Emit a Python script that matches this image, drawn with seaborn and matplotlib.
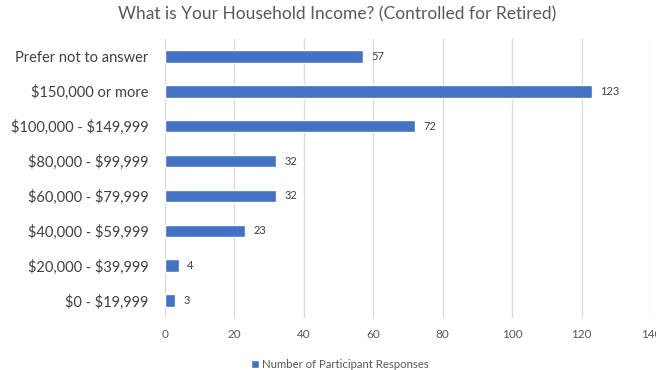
import matplotlib
matplotlib.use("Agg")
import matplotlib.pyplot as plt
import seaborn as sns
import pandas as pd

categories = [
    "Prefer not to answer",
    "$150,000 or more",
    "$100,000 - $149,999",
    "$80,000 - $99,999",
    "$60,000 - $79,999",
    "$40,000 - $59,999",
    "$20,000 - $39,999",
    "$0 - $19,999",
]
responses = [57, 123, 72, 32, 32, 23, 4, 3]
x_ticks = [0, 20, 40, 60, 80, 100, 120, 140]
series_name = "Number of Participant Responses"
title = "What is Your Household Income? (Controlled for Retired)"

df = pd.DataFrame({"Income": categories, "Responses": responses})

sns.set_theme(style="white")
plt.rcParams["font.family"] = ["Lato", "DejaVu Sans"]
plt.rcParams["text.parse_math"] = False

bar_color = "#4472C4"
text_gray = "#595959"

fig = plt.figure(figsize=(6.56, 3.70), dpi=100)
ax = fig.add_axes([0.2515, 0.1405, 0.7409, 0.7541])

sns.barplot(data=df, y="Income", x="Responses", order=categories,
            color=bar_color, width=0.36, saturation=1, ax=ax,
            label=series_name)

ax.set_xlim(0, 140)
ax.set_ylim(7.5, -0.5)
ax.set_xticks(x_ticks)
ax.set_xticklabels([str(t) for t in x_ticks])
ax.grid(axis="x", color="#D9D9D9", linewidth=0.9)
ax.grid(axis="y", visible=False)
ax.set_axisbelow(True)
for s in ax.spines.values():
    s.set_visible(False)
ax.set_xlabel("")
ax.set_ylabel("")
ax.tick_params(axis="x", length=0, labelsize=8.5, labelcolor=text_gray, pad=8)
ax.tick_params(axis="y", length=0, labelsize=10.5, labelcolor="#404040", pad=12)

for container in ax.containers:
    ax.bar_label(container, labels=[str(v) for v in responses],
                 padding=6, fontsize=8, color="#404040")

fig.text(0.514, 0.962, title, ha="center", va="center",
         fontsize=12.5, color=text_gray)

leg = ax.legend(loc="center", bbox_to_anchor=(0.36, -0.168), frameon=False,
                fontsize=8.2, handlelength=0.7, handleheight=0.7,
                handletextpad=0.3, labelcolor=text_gray)

fig.savefig("out.png", dpi=100)
